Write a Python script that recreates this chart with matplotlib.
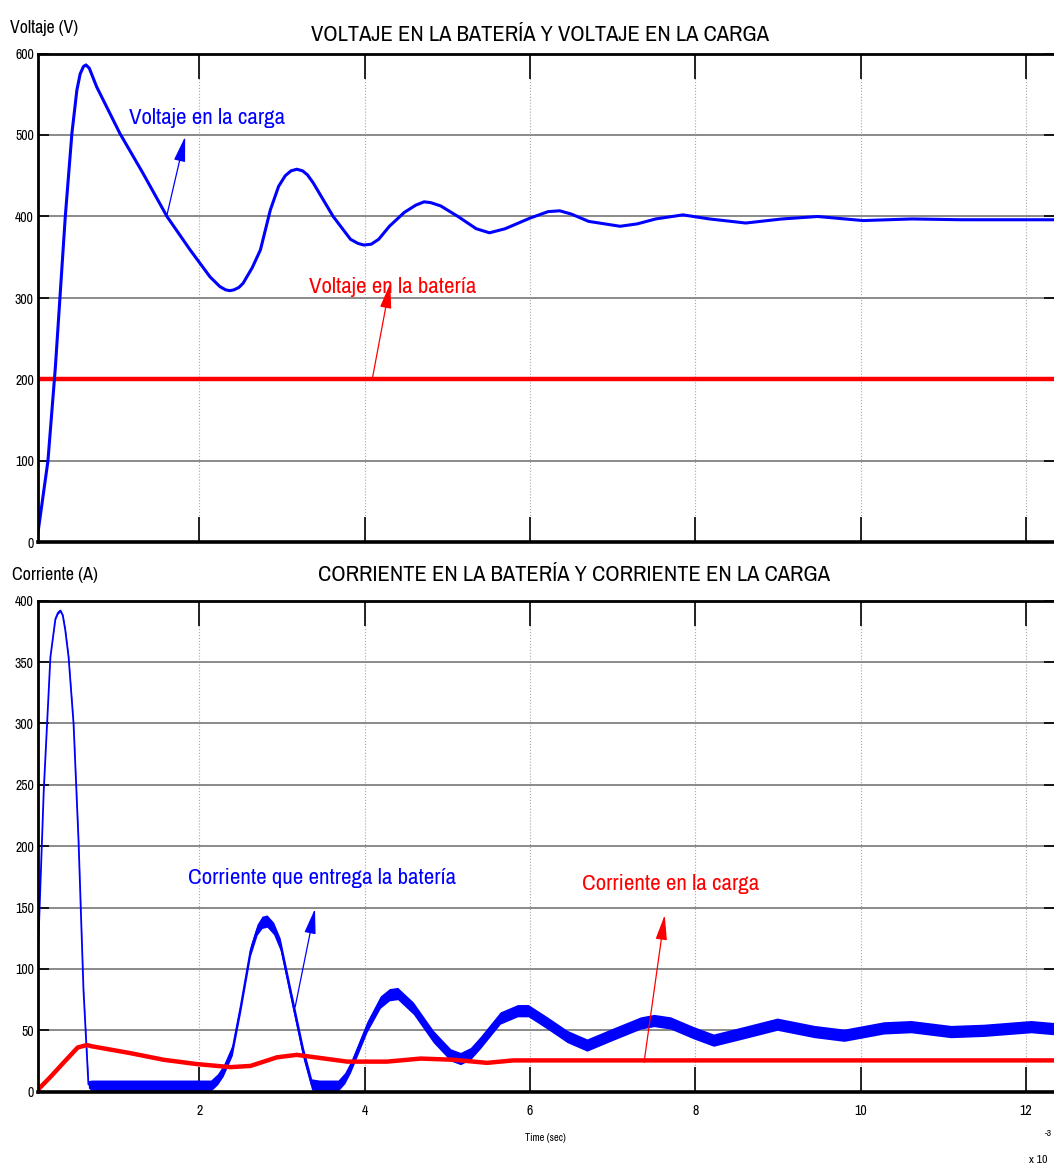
import os
import matplotlib
matplotlib.use('Agg')
import matplotlib.pyplot as plt
from matplotlib import font_manager
from matplotlib.font_manager import FontProperties
import numpy as np

# time in ms (x 10^-3 s)
t_vload = [0.0, 0.04, 0.17, 0.26, 0.38, 0.46, 0.52, 0.56, 0.60, 0.63, 0.67, 0.76, 1.04,
           1.32, 1.61, 1.89, 2.13, 2.25, 2.32, 2.37, 2.42, 2.48, 2.53, 2.64, 2.74, 2.86,
           2.96, 3.04, 3.11, 3.18, 3.25, 3.31, 3.38, 3.62, 3.83, 3.92, 3.99, 4.08, 4.17,
           4.30, 4.48, 4.62, 4.72, 4.80, 4.92, 5.13, 5.35, 5.51, 5.70, 6.00, 6.22, 6.36,
           6.50, 6.71, 7.09, 7.30, 7.52, 7.85, 8.17, 8.61, 9.05, 9.48, 10.03, 10.62, 11.22,
           12.40]
v_load = [0, 5, 100, 215, 400, 502, 555, 575, 584, 586, 582, 559, 502,
          453, 400, 359, 326, 314, 310, 309, 310, 313, 318, 337, 359, 408,
          437, 450, 456, 458, 456, 451, 441, 400, 372, 367, 365, 366, 372,
          388, 405, 414, 418, 417, 413, 400, 385, 380, 385, 398, 406, 407,
          403, 394, 388, 391, 397, 402, 397, 392, 397, 400, 395, 397, 396,
          396]

t_vbat = [0.0, 12.40]
v_bat = [200, 200]

t_ibat = [0.04, 0.12, 0.20, 0.26, 0.29, 0.32, 0.35, 0.38, 0.42, 0.48, 0.54, 0.60, 0.66,
          0.70, 2.14, 2.22, 2.29, 2.40, 2.50, 2.62, 2.70, 2.76, 2.82, 2.90, 2.98, 3.14,
          3.26, 3.36, 3.45, 3.68, 3.76, 3.83, 4.03, 4.19, 4.30, 4.40, 4.59, 4.83, 5.04,
          5.16, 5.28, 5.40, 5.64, 5.85, 5.98, 6.21, 6.45, 6.69, 7.01, 7.34, 7.50, 7.70,
          7.98, 8.22, 8.58, 8.99, 9.44, 9.80, 10.28, 10.61, 11.09, 11.49, 12.06, 12.40]
i_bat = [94, 246, 354, 385, 390, 392, 388, 376, 354, 300, 205, 83, 6,
         5, 5, 10, 17, 34, 69, 115, 132, 138, 139, 133, 120, 69,
         31, 6, 5, 5, 11, 20, 53, 73, 79, 80, 68, 45, 30,
         27, 31, 40, 60, 66, 66, 56, 45, 38, 47, 56, 58, 56,
         48, 42, 48, 55, 49, 46, 52, 53, 49, 50, 53, 51]
ripple = [0, 0, 0, 0.5, 1, 1, 1, 1.5, 1.5, 1.5, 1.5, 1.5, 3,
          4.5, 4.5, 4.5, 4.5, 4.5, 4.5, 4.5, 4.5, 5, 5, 5, 5, 5,
          5, 4.5, 4.5, 4.5, 4.5, 4.5, 4.5, 5, 5, 5, 5, 5, 5,
          5, 5, 5, 5, 5, 5, 5, 5, 5, 5, 5, 5, 5,
          5, 5, 5, 5, 5, 5, 5, 5, 5, 5, 5, 5]

t_iload = [0.0, 0.04, 0.20, 0.35, 0.53, 0.64, 0.70, 1.16, 1.57, 1.97, 2.38, 2.62, 2.94,
           3.18, 3.46, 3.79, 4.27, 4.68, 5.08, 5.48, 5.80, 12.40]
i_load = [0, 1, 12, 23, 36, 38, 37, 31.5, 26, 22.5, 20, 21, 28,
          30, 27.5, 24.5, 24.5, 27, 26, 23.5, 25.5, 25.5]

xticks = [2, 4, 6, 8, 10, 12]
BLUE = '#0000ff'
RED = '#ff0000'


# the scope uses a narrow typeface, look for one
def pick_font():
    bad = ('bold', 'italic', 'oblique', 'light', 'medium', 'thin', 'black', 'semibold', 'heavy')
    best = None
    for f in font_manager.fontManager.ttflist:
        base = os.path.basename(f.fname).lower()
        if any(b in base for b in bad):
            continue
        if 'narrow' in base:
            rank = 0
        elif 'extracondensed' in base or 'extra-condensed' in base:
            rank = 2
        elif 'semicondensed' in base:
            rank = 3
        elif 'condensed' in base:
            rank = 1 if 'dejavu' not in base else 4
        else:
            continue
        if best is None or rank < best[0]:
            best = (rank, f.fname)
    return best


found = pick_font()
if found:
    FONT_FILE = found[1]
    scale = 1.0
else:
    FONT_FILE = font_manager.findfont(FontProperties(family='Liberation Sans'))
    scale = 0.78


def fp(size):
    return FontProperties(fname=FONT_FILE, size=size * scale)


W, H = 1054, 1169
fig = plt.figure(figsize=(W / 100, H / 100), dpi=100)


def px_axes(left, top, right, bottom):
    return fig.add_axes([left / W, 1 - bottom / H, (right - left) / W, (bottom - top) / H])


def style(ax, ylim, ystep, show_xlabels):
    ax.set_xlim(0.05, 12.35)
    ax.set_ylim(*ylim)
    ax.set_xticks(xticks)
    ax.set_yticks(np.arange(ylim[0], ylim[1] + 1, ystep))
    ax.set_axisbelow(True)
    ax.yaxis.grid(True, color='#8a8a8a', lw=1.4, ls='-')
    ax.xaxis.grid(True, color='#a8a8a8', lw=0.8, ls=':')
    ax.tick_params(axis='x', direction='in', top=True, bottom=True, length=18, width=1.2,
                   pad=9, labelbottom=show_xlabels)
    ax.tick_params(axis='y', direction='in', left=True, right=True, length=8, width=1.2, pad=3)
    for lab in ax.get_xticklabels() + ax.get_yticklabels():
        lab.set_fontproperties(fp(10))
    for s in ['left', 'top', 'right']:
        ax.spines[s].set_linewidth(2)
    ax.spines['bottom'].set_linewidth(2.6)


def arrow(ax, tip, tail, color):
    ax.annotate('', xy=tip, xytext=tail,
                arrowprops=dict(arrowstyle='-|>,head_length=1.1,head_width=0.25', color=color,
                                lw=0.9, shrinkA=0, shrinkB=0, mutation_scale=14))


# top: voltages
ax1 = px_axes(38, 53.5, 1055, 542.5)
style(ax1, (0, 600), 100, False)
ax1.plot(t_vbat, v_bat, color=RED, lw=3.2, solid_capstyle='butt')
ax1.plot(t_vload, v_load, color=BLUE, lw=2.2)
arrow(ax1, (1.83, 498), (1.61, 402), BLUE)
ax1.text(2.10, 521, 'Voltaje en la carga', color=BLUE, fontproperties=fp(16.5),
         ha='center', va='center')
arrow(ax1, (4.31, 318), (4.09, 199), RED)
ax1.text(4.34, 313, 'Voltaje en la batería', color=RED, fontproperties=fp(16.5),
         ha='center', va='center')

# bottom: currents
ax2 = px_axes(38, 600.7, 1055, 1091.7)
style(ax2, (0, 400), 50, True)
lo = np.array(i_bat) - np.array(ripple)
hi = np.array(i_bat) + np.array(ripple)
ax2.fill_between(t_ibat, lo, hi, color=BLUE, lw=0)
ax2.plot(t_ibat, i_bat, color=BLUE, lw=1.3)
ax2.plot(t_iload, i_load, color=RED, lw=3.2)
arrow(ax2, (3.40, 149), (3.16, 69), BLUE)
ax2.text(3.49, 174, 'Corriente que entrega la batería', color=BLUE, fontproperties=fp(16.5),
         ha='center', va='center')
arrow(ax2, (7.63, 144), (7.38, 24), RED)
ax2.text(7.70, 169, 'Corriente en la carga', color=RED, fontproperties=fp(16.5),
         ha='center', va='center')

# titles and labels placed like the scope output
fig.text(540 / W, 1 - 35 / H, 'VOLTAJE EN LA BATERÍA Y VOLTAJE EN LA CARGA',
         fontproperties=fp(16.2), ha='center', va='center')
fig.text(574 / W, 1 - 575 / H, 'CORRIENTE EN LA BATERÍA Y CORRIENTE EN LA CARGA',
         fontproperties=fp(16.2), ha='center', va='center')
fig.text(10 / W, 1 - 28 / H, 'Voltaje (V)', fontproperties=fp(12.8), ha='left', va='center')
fig.text(12 / W, 1 - 575 / H, 'Corriente (A)', fontproperties=fp(13), ha='left', va='center')
fig.text(545 / W, 1 - 1138 / H, 'Time (sec)', fontproperties=fp(7.5), ha='center', va='center')
fig.text(1048 / W, 1 - 1133 / H, '-3', fontproperties=fp(7), ha='center', va='center')
fig.text(1038 / W, 1 - 1160 / H, 'x 10', fontproperties=fp(8.5), ha='center', va='center')

fig.savefig('out.png', dpi=100)
